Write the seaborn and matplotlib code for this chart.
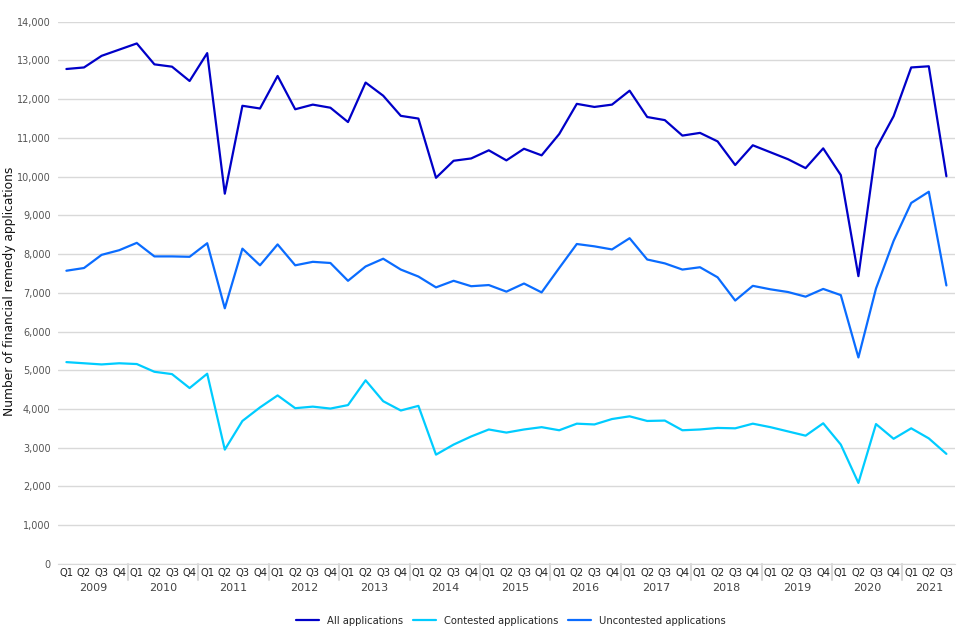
import numpy as np
import pandas as pd
import matplotlib
matplotlib.use("Agg")
import matplotlib.pyplot as plt
import seaborn as sns
from matplotlib.ticker import FuncFormatter

# Quarterly data, 2009 Q1 to 2021 Q3
years = [str(y) for y in range(2009, 2022)]
quarters = ["Q1", "Q2", "Q3", "Q4"]

all_apps = [12780, 12820, 13120, 13280, 13440, 12900, 12840, 12470, 13190, 9560,
            11830, 11760, 12600, 11740, 11860, 11780, 11410, 12430, 12090, 11570,
            11500, 9970, 10410, 10470, 10680, 10420, 10720, 10550, 11100, 11880,
            11800, 11860, 12220, 11540, 11460, 11060, 11130, 10910, 10300, 10810,
            10630, 10450, 10220, 10730, 10040, 7430, 10720, 11560, 12820, 12850,
            10010]
contested = [5210, 5180, 5150, 5180, 5160, 4960, 4900, 4540, 4910, 2950,
             3690, 4040, 4350, 4020, 4060, 4010, 4100, 4740, 4200, 3960,
             4080, 2820, 3080, 3290, 3470, 3390, 3470, 3530, 3450, 3620,
             3600, 3740, 3810, 3690, 3700, 3450, 3470, 3510, 3500, 3620,
             3530, 3420, 3310, 3630, 3080, 2090, 3610, 3230, 3500, 3240,
             2840]
uncontested = [7570, 7640, 7980, 8100, 8290, 7940, 7940, 7930, 8280, 6600,
               8140, 7710, 8250, 7710, 7800, 7770, 7310, 7680, 7880, 7600,
               7420, 7140, 7310, 7170, 7200, 7030, 7240, 7010, 7640, 8260,
               8200, 8120, 8410, 7860, 7760, 7600, 7660, 7400, 6800, 7180,
               7090, 7020, 6900, 7100, 6940, 5330, 7110, 8340, 9320, 9610,
               7190]

series_names = ["All applications", "Contested applications", "Uncontested applications"]
colors = ["#0000c8", "#00ccff", "#0a6cff"]

n = len(all_apps)
q_labels = [quarters[i % 4] for i in range(n)]

df = pd.DataFrame({
    "idx": list(range(n)) * 3,
    "value": all_apps + contested + uncontested,
    "series": [series_names[0]] * n + [series_names[1]] * n + [series_names[2]] * n,
})

sns.set_style("white")
plt.rcParams["font.family"] = ["DejaVu Sans"]

fig = plt.figure(figsize=(9.6, 6.4), dpi=100)
ax = fig.add_axes([0.060, 0.119, 0.935, 0.847])

sns.lineplot(data=df, x="idx", y="value", hue="series", palette=colors,
             hue_order=series_names, linewidth=1.6, ax=ax, legend=False)

ax.set_xlim(-0.5, n - 0.5)
ax.set_ylim(0, 14000)
ax.set_yticks(np.arange(0, 14001, 1000))
ax.yaxis.set_major_formatter(FuncFormatter(lambda v, p: f"{int(v):,}"))
ax.grid(axis="y", color="#d9d9d9", linewidth=1)
ax.set_axisbelow(True)
for s in ["top", "right", "left"]:
    ax.spines[s].set_visible(False)
ax.spines["bottom"].set_color("#d9d9d9")
ax.tick_params(axis="y", length=0, labelsize=7, labelcolor="#555555", pad=5)

# quarter labels and year labels below
ax.set_xticks(range(n))
ax.set_xticklabels(q_labels, fontsize=7.2, color="#222222")
ax.tick_params(axis="x", length=0, pad=3)
ax.set_xlabel("")
ax.set_ylabel("")
fig.text(10 / 960, 0.545, "Number of financial remedy applications",
         rotation=90, ha="center", va="center", fontsize=8.8, color="#111111")

trans = ax.get_xaxis_transform()
for i, yr in enumerate(years):
    start = i * 4
    end = min(start + 3, n - 1)
    ax.text((start + end) / 2, -0.045, yr, transform=trans, ha="center", va="center",
            fontsize=8, color="#444444")
    if i > 0:
        ax.plot([start - 0.5, start - 0.5], [0, -0.03], transform=trans, color="#d9d9d9",
                linewidth=1.5, clip_on=False)

handles = [plt.Line2D([0], [0], color=c, linewidth=1.6) for c in colors]
fig.legend(handles, series_names, loc="center", bbox_to_anchor=(0.532, 0.03), ncol=3,
           frameon=False, fontsize=7.2, handlelength=2.3, handletextpad=0.8,
           columnspacing=1.0)

fig.savefig("out.png", dpi=100)
